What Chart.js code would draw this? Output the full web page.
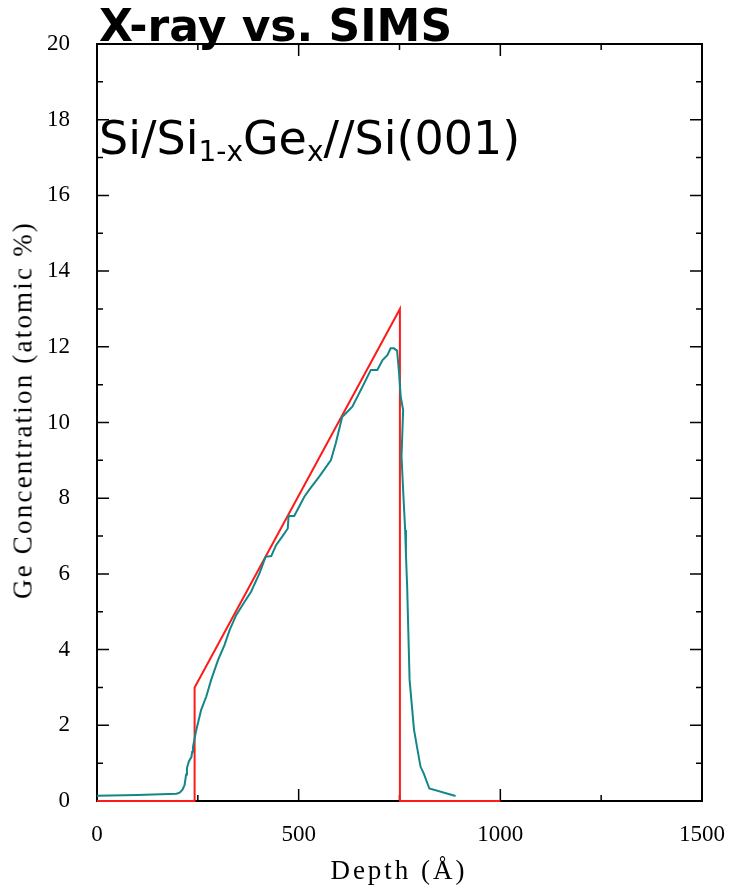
<!DOCTYPE html>
<html>
<head>
<meta charset="utf-8">
<script src="https://cdn.jsdelivr.net/npm/chart.js@4.4.1/dist/chart.umd.min.js"></script>
<style>
  html, body { margin: 0; padding: 0; background: #fff; }
  #wrap { position: relative; width: 737px; height: 890px; }
  #chart { position: absolute; left: 0; top: 0; }
  .lbl { position: absolute; white-space: nowrap; color: #000; line-height: 1; }
  #title { left: 99px; top: 0px; font: bold 44px "DejaVu Sans", sans-serif; }
  #sample { left: 99px; top: 111px; font: 46px "DejaVu Sans", sans-serif; }
  #sample sub { font-size: 28px; vertical-align: -7px; line-height: 0; }
  #xtitle { left: 399px; top: 855px; transform: translateX(-50%); font: 27px "Liberation Serif", serif; letter-spacing: 3px; }
  #ytitle { left: 23px; top: 410px; transform: translate(-50%, -50%) rotate(-90deg); font: 27px "Liberation Serif", serif; letter-spacing: 2.2px; }
</style>
</head>
<body>
<div id="wrap">
  <canvas id="chart" width="737" height="890"></canvas>
  <div class="lbl" id="title">X-ray vs. SIMS</div>
  <div class="lbl" id="sample">Si/Si<sub>1-x</sub>Ge<sub>x</sub>//Si(001)</div>
  <div class="lbl" id="xtitle">Depth (Å)</div>
  <div class="lbl" id="ytitle">Ge Concentration (atomic %)</div>
</div>
<script>
// X-ray model profile (red)
var xrayDepth = [0, 242, 242, 751, 751, 1000];
var xrayGe = [0, 0, 3, 13, 0, 0];

// SIMS profile (teal)
var simsDepth = [0, 100, 197, 205, 212, 217, 221, 223, 228, 234, 236, 238, 246, 258, 271, 283, 300, 316, 329, 345,
    362, 382, 403, 418, 432, 444, 460, 473, 475, 489, 514, 526, 551, 580, 592, 608, 613, 633, 656, 679,
    695, 708, 720, 728, 736, 744, 749, 753, 759, 755, 760, 764, 766, 769, 775, 786, 802, 810, 824, 889];
var simsGe = [0.14, 0.16, 0.19, 0.22, 0.3, 0.42, 0.7, 0.87, 1.05, 1.16, 1.3, 1.43, 1.87, 2.4, 2.76, 3.2, 3.72, 4.12, 4.52, 4.91,
    5.2, 5.53, 6.02, 6.45, 6.47, 6.76, 7.0, 7.2, 7.53, 7.53, 8.04, 8.22, 8.57, 9.01, 9.45, 10.15, 10.2, 10.42, 10.9, 11.39,
    11.39, 11.65, 11.78, 11.96, 11.96, 11.9, 11.3, 10.68, 10.33, 9.1, 8.0, 7.16, 6.5, 5.66, 3.2, 1.88, 0.91, 0.73, 0.33, 0.13];

var xMin = 0, xMax = 1500, xStep = 250, xLabelEvery = 500;
var yMin = 0, yMax = 20, yStep = 1, yLabelEvery = 2;

function toPoints(xs, ys) {
    return xs.map(function (x, i) { return {x: x, y: ys[i]}; });
}

// frame + inward tick marks, taken from the scales' own ticks
var frameTicks = {
    id: 'frameTicks',
    beforeDatasetsDraw: function (chart) {
        var ctx = chart.ctx;
        var a = chart.chartArea;
        var xs = chart.scales.x, ys = chart.scales.y;
        ctx.save();
        ctx.strokeStyle = '#000';
        ctx.lineWidth = 2;
        ctx.strokeRect(a.left, a.top, a.right - a.left, a.bottom - a.top);
        ctx.lineWidth = 1.5;
        ctx.beginPath();
        xs.ticks.forEach(function (t) {
            var px = xs.getPixelForValue(t.value);
            var len = (t.value % xLabelEvery === 0) ? 12 : 6;
            ctx.moveTo(px, a.bottom); ctx.lineTo(px, a.bottom - len);
            ctx.moveTo(px, a.top); ctx.lineTo(px, a.top + len);
        });
        ys.ticks.forEach(function (t) {
            var py = ys.getPixelForValue(t.value);
            var len = (t.value % yLabelEvery === 0) ? 12 : 6;
            ctx.moveTo(a.left, py); ctx.lineTo(a.left + len, py);
            ctx.moveTo(a.right, py); ctx.lineTo(a.right - len, py);
        });
        ctx.stroke();
        ctx.restore();
    }
};

var tickFont = {family: '"Liberation Serif", serif', size: 23};

new Chart(document.getElementById('chart'), {
    type: 'scatter',
    data: {
        datasets: [
            {
                label: 'SIMS',
                data: toPoints(simsDepth, simsGe),
                showLine: true,
                borderColor: '#138787',
                borderWidth: 2,
                pointRadius: 0,
                tension: 0,
                clip: 4
            },
            {
                label: 'X-ray',
                data: toPoints(xrayDepth, xrayGe),
                showLine: true,
                borderColor: '#ff1a1a',
                borderWidth: 2,
                pointRadius: 0,
                tension: 0,
                clip: 4
            }
        ]
    },
    options: {
        responsive: false,
        animation: false,
        layout: {padding: {top: 44, right: 33, left: 0, bottom: 0}},
        plugins: {
            legend: {display: false},
            tooltip: {enabled: false}
        },
        scales: {
            x: {
                type: 'linear',
                min: xMin, max: xMax,
                grid: {display: false},
                border: {display: false},
                ticks: {
                    stepSize: xStep,
                    autoSkip: false,
                    maxRotation: 0,
                    padding: 12,
                    color: '#000',
                    font: tickFont,
                    callback: function (v) { return v % xLabelEvery === 0 ? String(v) : ''; }
                },
                afterFit: function (s) { s.height = 89; }
            },
            y: {
                type: 'linear',
                min: yMin, max: yMax,
                grid: {display: false},
                border: {display: false},
                ticks: {
                    stepSize: yStep,
                    autoSkip: false,
                    padding: 19,
                    color: '#000',
                    font: tickFont,
                    callback: function (v) { return v % yLabelEvery === 0 ? String(v) : ''; }
                },
                afterFit: function (s) { s.width = 97; }
            }
        }
    },
    plugins: [frameTicks]
});
</script>
</body>
</html>
